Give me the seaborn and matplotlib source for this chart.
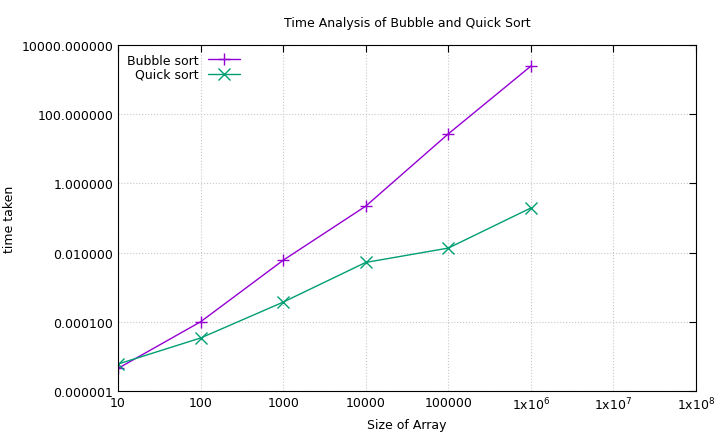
import matplotlib
matplotlib.use("Agg")
import matplotlib.pyplot as plt
import seaborn as sns
import pandas as pd
from matplotlib.ticker import FixedLocator, FixedFormatter, NullLocator

sizes = [10, 100, 1000, 10000, 100000, 1000000]
bubble = [4.5e-6, 1.0e-4, 6.0e-3, 0.22, 27.0, 2450.0]
quick = [6.0e-6, 3.4e-5, 3.7e-4, 5.2e-3, 0.0135, 0.195]
x_ticks = [10, 100, 1000, 10000, 100000, 1e6, 1e7, 1e8]
x_labels = ["10", "100", "1000", "10000", "100000", r"1x10$^6$", r"1x10$^7$", r"1x10$^8$"]
y_ticks = [1e-6, 1e-4, 1e-2, 1, 100, 1e4]
y_labels = ["0.000001", "0.000100", "0.010000", "1.000000", "100.000000", "10000.000000"]

sns.set_style("white")
plt.rcParams['font.family'] = ['DejaVu Sans']
plt.rcParams['text.color'] = 'black'
plt.rcParams['axes.labelcolor'] = 'black'
plt.rcParams['xtick.color'] = 'black'
plt.rcParams['ytick.color'] = 'black'
fig = plt.figure(figsize=(7.17, 4.39), dpi=100)
ax = fig.add_axes([118/717, 47/439, 578/717, 346/439])

df = pd.DataFrame({"size": sizes * 2, "time": bubble + quick,
                   "algo": ["Bubble sort"] * 6 + ["Quick sort"] * 6})
sns.lineplot(data=df, x="size", y="time", hue="algo", style="algo",
             palette={"Bubble sort": "#9400d3", "Quick sort": "#009e73"},
             markers={"Bubble sort": "+", "Quick sort": "x"}, dashes=False,
             markersize=9, markeredgewidth=1, linewidth=1, ax=ax)
for ln in ax.lines:
    ln.set_markeredgecolor(ln.get_color())
ax.set_xscale("log"); ax.set_yscale("log")
ax.set_xlim(10, 1e8); ax.set_ylim(1e-6, 1e4)
ax.xaxis.set_major_locator(FixedLocator(x_ticks))
ax.xaxis.set_major_formatter(FixedFormatter(x_labels))
ax.yaxis.set_major_locator(FixedLocator(y_ticks))
ax.yaxis.set_major_formatter(FixedFormatter(y_labels))
ax.xaxis.set_minor_locator(NullLocator()); ax.yaxis.set_minor_locator(NullLocator())
ax.tick_params(direction="in", top=True, right=True, labelsize=9, length=5)
ax.grid(True, linestyle=":", color="#c8c8c8", linewidth=0.8)
for s in ax.spines.values():
    s.set_color("black"); s.set_linewidth(0.8)
ax.set_xlabel("Size of Array", fontsize=9)
ax.set_ylabel("time taken", fontsize=9)
ax.set_title("Time Analysis of Bubble and Quick Sort", fontsize=9, pad=14)
leg = ax.legend(loc="upper left", frameon=False, markerfirst=False, fontsize=9,
                handlelength=2.5, borderaxespad=0.3, labelspacing=0.1)
for h in leg.legend_handles:
    try:
        h.set_markeredgecolor(h.get_color())
    except Exception:
        pass
for t in leg.get_texts():
    t.set_ha("right")
fig.savefig("out.png", dpi=100)
